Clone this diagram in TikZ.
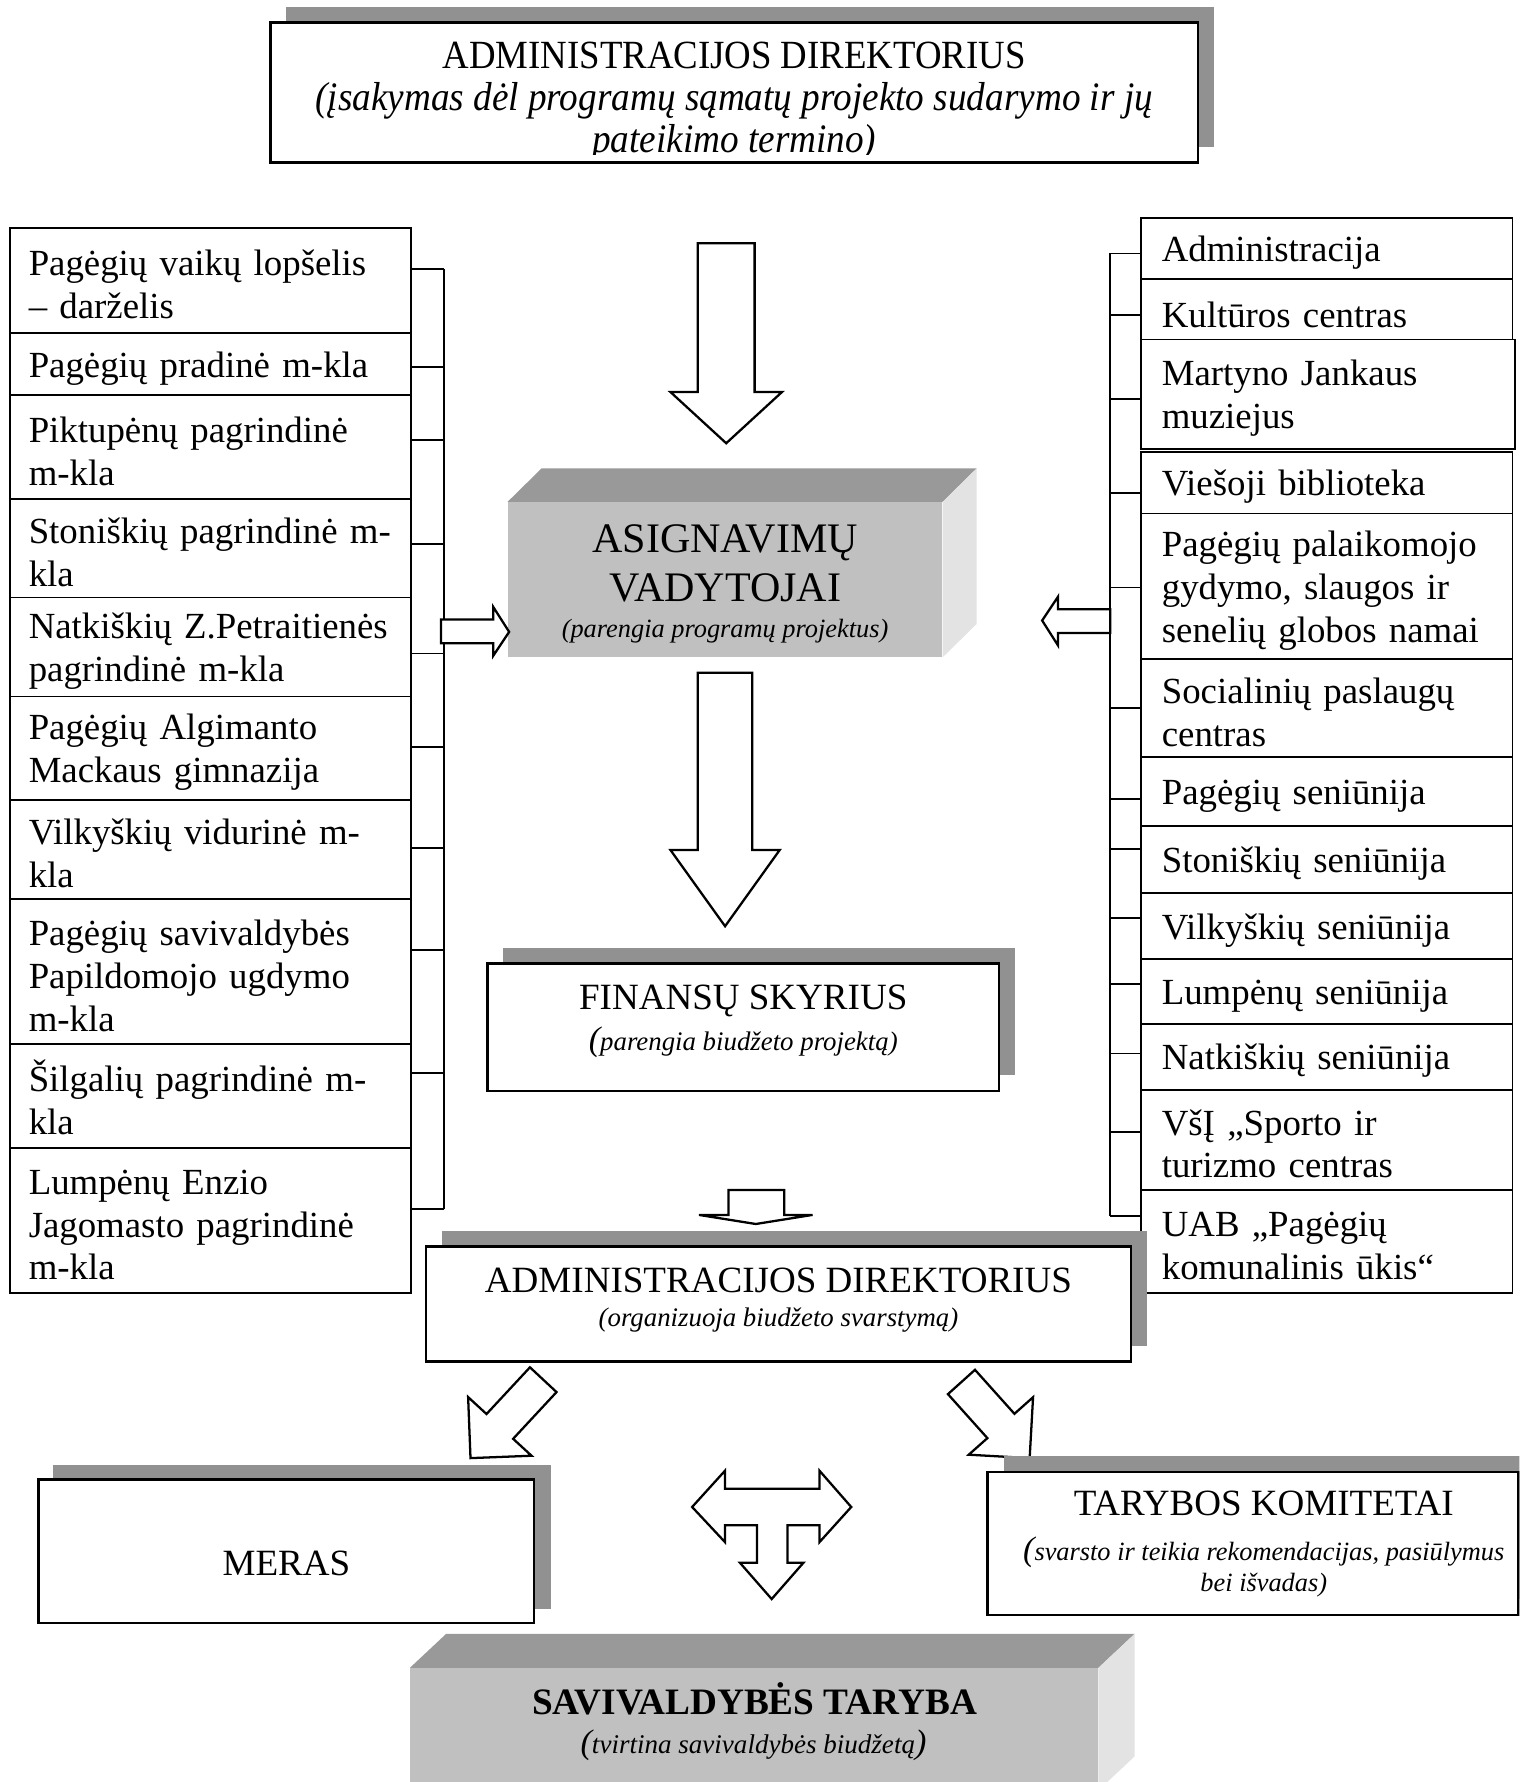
\documentclass[tikz,border=0pt]{standalone}
\usepackage{fontspec}
\setmainfont{Liberation Serif}
\newfontfamily\condfont[FakeStretch=0.92]{Liberation Serif}
\usetikzlibrary{calc}
\definecolor{shadowgray}{RGB}{145,145,145}
\definecolor{frontgray}{RGB}{192,192,192}
\definecolor{topgray}{RGB}{153,153,153}
\definecolor{sidegray}{RGB}{227,227,227}
\newcommand{\colfont}{\fontsize{16.2pt}{18.8pt}\selectfont}
\newcommand{\headfont}{\fontsize{16.3pt}{18.8pt}\selectfont}
\newcommand{\capfont}{\fontsize{11.8pt}{14pt}\selectfont\itshape}
\newcommand{\bigparen}[1]{{\fontsize{15pt}{15pt}\selectfont #1}}
\begin{document}
\begin{tikzpicture}[x=0.5pt,y=-0.5pt,
  lcol/.style={draw, line width=0.8pt, fill=white, anchor=north west, align=left,
    text width=160pt, inner xsep=8.25pt, inner ysep=0pt, font=\colfont,
    execute at begin node={\rule{0pt}{15pt}}},
  rcol/.style={lcol, text width=145pt, inner xsep=9.25pt},
  bus/.style={line width=0.8pt},
  blockarrow/.style={draw, line width=1pt, fill=white, line join=miter},
  mainbox/.style={draw, line width=1.1pt, fill=white, inner sep=0pt},
  headtext/.style={anchor=base, inner sep=0pt, font=\headfont},
  captext/.style={anchor=base, inner sep=0pt, font=\capfont}]
\useasboundingbox (0,0) rectangle (1337,1568);
\fill[white] (0,0) rectangle (1337,1568);
\clip (0,0) rectangle (1337,1568);

% ---------- top box ----------
\fill[shadowgray] (252,6) rectangle (1068,129);
\node[mainbox, minimum width=408pt, minimum height=61.5pt] (adm1) at (646,81.5) {};
\begin{scope}
  \clip (240,22) rectangle (1052,136);
  \node[headtext, font=\condfont\fontsize{17.6pt}{18pt}\selectfont] (adm1h) at (646,60) {ADMINISTRACIJOS DIREKTORIUS};
  \node[captext, font=\condfont\fontsize{17.8pt}{18pt}\selectfont\itshape] (adm1c) at (646,97)
    {(įsakymas dėl programų sąmatų projekto sudarymo ir jų};
  \node[captext, font=\condfont\fontsize{17.8pt}{18pt}\selectfont\itshape] (adm1d) at (646,134.5)
    {pateikimo termino)};
\end{scope}

% ---------- left column ----------
\node[lcol, minimum height=46pt]   (L1)  at (8,200)  {\mbox{Pagėgių vaikų lopšelis}\\– darželis};
\node[lcol, minimum height=27.5pt] (L2)  at (8,292)  {\mbox{Pagėgių pradinė m-kla}};
\node[lcol, minimum height=45.5pt] (L3)  at (8,347)  {\mbox{Piktupėnų pagrindinė}\\m-kla};
\node[lcol, minimum height=43.5pt] (L4)  at (8,438)  {\mbox{Stoniškių pagrindinė m-}\\kla};
\node[lcol, minimum height=43.5pt] (L5)  at (8,525)  {\mbox{Natkiškių Z.Petraitienės}\\\mbox{pagrindinė m-kla}};
\node[lcol, minimum height=45.5pt] (L6)  at (8,612)  {\mbox{Pagėgių Algimanto}\\\mbox{Mackaus gimnazija}};
\node[lcol, minimum height=43.5pt] (L7)  at (8,703)  {\mbox{Vilkyškių vidurinė m-}\\kla};
\node[lcol, minimum height=64pt]   (L8)  at (8,790)  {\mbox{Pagėgių savivaldybės}\\\mbox{Papildomojo ugdymo}\\m-kla};
\node[lcol, minimum height=45.5pt] (L9)  at (8,918)  {\mbox{Šilgalių pagrindinė m-}\\kla};
\node[lcol, minimum height=64pt]   (L10) at (8,1009) {\mbox{Lumpėnų Enzio}\\\mbox{Jagomasto pagrindinė}\\m-kla};

\coordinate (lb1) at (391,237);
\coordinate (lb2) at (391,323);
\coordinate (lb3) at (391,387);
\coordinate (lb4) at (391,479);
\coordinate (lb5) at (391,575);
\coordinate (lb6) at (391,657);
\coordinate (lb7) at (391,746);
\coordinate (lb8) at (391,836);
\coordinate (lb9) at (391,944);
\coordinate (lb10) at (391,1064);
\draw[bus] (lb1) -- (lb10);
\foreach \i in {1,...,10} {\draw[bus] (lb\i) -- (lb\i -| L\i.east);}

% ---------- right column ----------
\node[rcol, minimum height=27pt]   (R1)  at (1003,191)  {Administracija};
\node[rcol, minimum height=27.5pt] (R2)  at (1003,245)  {\mbox{Kultūros centras}};
\node[rcol, minimum height=48pt, text width=146pt] (R3) at (1003,298) {\mbox{Martyno Jankaus}\\muziejus};
\node[rcol, minimum height=27pt]   (R4)  at (1003,397)  {\mbox{Viešoji biblioteka}};
\node[rcol, minimum height=64pt]   (R5)  at (1003,451)  {\mbox{Pagėgių palaikomojo}\\\mbox{gydymo, slaugos ir}\\\mbox{senelių globos namai}};
\node[rcol, minimum height=43pt]   (R6)  at (1003,579)  {\mbox{Socialinių paslaugų}\\centras};
\node[rcol, minimum height=30.5pt] (R7)  at (1003,665)  {\mbox{Pagėgių seniūnija}};
\node[rcol, minimum height=29.5pt] (R8)  at (1003,726)  {\mbox{Stoniškių seniūnija}};
\node[rcol, minimum height=29pt]   (R9)  at (1003,785)  {\mbox{Vilkyškių seniūnija}};
\node[rcol, minimum height=28.5pt] (R10) at (1003,843)  {\mbox{Lumpėnų seniūnija}};
\node[rcol, minimum height=29pt]   (R11) at (1003,900)  {\mbox{Natkiškių seniūnija}};
\node[rcol, minimum height=44pt]   (R12) at (1003,958)  {\mbox{VšĮ ,,Sporto ir}\\\mbox{turizmo centras}};
\node[rcol, minimum height=45.5pt] (R13) at (1003,1046) {\mbox{UAB ,,Pagėgių}\\\mbox{komunalinis ūkis“}};

\coordinate (rb1) at (977,223);
\coordinate (rb2) at (977,277);
\coordinate (rb3) at (977,351);
\coordinate (rb4) at (977,434);
\coordinate (rb5) at (977,517);
\coordinate (rb6) at (977,623);
\coordinate (rb7) at (977,703);
\coordinate (rb8) at (977,747);
\coordinate (rb9) at (977,808);
\coordinate (rb10) at (977,866);
\coordinate (rb11) at (977,927);
\coordinate (rb12) at (977,996);
\coordinate (rb13) at (977,1070);
\draw[bus] (rb1) -- (rb13);
\foreach \i in {1,...,13} {\draw[bus] (rb\i) -- (rb\i -| R\i.west);}

% ---------- ASIGNAVIMU 3D box ----------
\node[fill=frontgray, minimum width=191pt, minimum height=68pt, inner sep=0pt] (asig) at (638,510) {};
\fill[topgray] (asig.north west) -- ++(30,-29.5) -- ($(asig.north east)+(30,-29.5)$) -- (asig.north east) -- cycle;
\fill[sidegray] (asig.north east) -- ++(30,-29.5) -- ($(asig.south east)+(30,-29.5)$) -- (asig.south east) -- cycle;
\node[headtext, font=\fontsize{18.5pt}{20pt}\selectfont] (asig1) at (638,486) {ASIGNAVIMŲ};
\node[headtext, font=\fontsize{18.5pt}{20pt}\selectfont] (asig2) at (638,529) {VADYTOJAI};
\node[captext, font=\fontsize{11.6pt}{14pt}\selectfont\itshape] (asig3) at (638,561) {(parengia programų projektus)};

% ---------- block arrows ----------
\draw[blockarrow] (614,214) -- (664,214) -- (664,345) -- (688,345) -- (639,390) -- (590,345) -- (614,345) -- cycle;
\draw[blockarrow] (614,592) -- (662,592) -- (662,748) -- (686,748) -- (638,815) -- (590,748) -- (614,748) -- cycle;
\draw[blockarrow] (388,545) -- (434,545) -- (434,534) -- (448,556) -- (434,577) -- (434,566) -- (388,566) -- cycle;
\draw[blockarrow] (977,536) -- (931,536) -- (931,525) -- (917,546) -- (931,568) -- (931,557) -- (977,557) -- cycle;
\draw[blockarrow] (641,1047) -- (690,1047) -- (690,1069) -- (715,1069) -- (665,1077) -- (615,1069) -- (641,1069) -- cycle;

% ---------- FINANSU SKYRIUS ----------
\fill[shadowgray] (443,834) rectangle (893,946);
\node[mainbox, minimum width=225pt, minimum height=56pt] (fin) at (654,904) {};
\node[headtext] (fin1) at (654,888) {FINANSŲ SKYRIUS};
\node[captext] (fin2) at (654,924) {\bigparen{(}parengia biudžeto projektą)};

% ---------- ADMINISTRACIJOS DIREKTORIUS (2) ----------
\fill[shadowgray] (389,1083) rectangle (1009,1184);
\node[mainbox, minimum width=310pt, minimum height=50.5pt] (adm2) at (685,1147.5) {};
\node[headtext] (adm2h) at (685,1137) {ADMINISTRACIJOS DIREKTORIUS};
\node[captext] (adm2c) at (685,1167) {(organizuoja biudžeto svarstymą)};

% ---------- diagonal arrows ----------
\draw[blockarrow] (466.3,1203.1) -- (428.1,1244.2) -- (411.9,1229.3) -- (414,1283) -- (467.7,1280.9) -- (451.5,1266.0) -- (489.7,1224.9) -- cycle;
\draw[blockarrow] (857.9,1205.3) -- (892.6,1244.0) -- (909.0,1229.4) -- (906,1283) -- (852.4,1280.0) -- (868.8,1265.4) -- (834.1,1226.7) -- cycle;

% ---------- MERAS ----------
\fill[shadowgray] (47,1289) rectangle (485,1416);
\node[mainbox, minimum width=218pt, minimum height=63pt] (meras) at (252,1365) {};
\node[headtext] (merast) at (252,1386) {MERAS};

% ---------- TARYBOS KOMITETAI ----------
\fill[shadowgray] (883,1281) rectangle (1350,1407);
\node[mainbox, minimum width=233.5pt, minimum height=63pt] (kom) at (1102.5,1358) {};
\node[headtext] (kom1) at (1112,1333.5) {TARYBOS KOMITETAI};
\node[captext, font=\fontsize{11.6pt}{14pt}\selectfont\itshape] (kom2) at (1112,1373) {\bigparen{(}svarsto ir teikia rekomendacijas, pasiūlymus};
\node[captext, font=\fontsize{11.6pt}{14pt}\selectfont\itshape] (kom3) at (1112,1400) {bei išvadas)};

% ---------- T arrow ----------
\draw[blockarrow] (609,1326) -- (638,1294) -- (638,1310) -- (721,1310) -- (721,1294) -- (749,1326) -- (721,1357) -- (721,1342)
  -- (693,1342) -- (693,1375) -- (707,1375) -- (679,1407) -- (651,1375) -- (666,1375) -- (666,1342) -- (638,1342) -- (638,1357) -- cycle;

% ---------- SAVIVALDYBES TARYBA ----------
\node[fill=frontgray, minimum width=302.5pt, minimum height=53.5pt, inner sep=0pt] (tar) at (663.5,1521.5) {};
\fill[topgray] (tar.north west) -- ++(32,-30) -- ($(tar.north east)+(32,-30)$) -- (tar.north east) -- cycle;
\fill[sidegray] (tar.north east) -- ++(32,-30) -- ($(tar.south east)+(32,-30)$) -- (tar.south east) -- cycle;
\node[headtext, font=\fontsize{16.4pt}{18pt}\selectfont\bfseries] (tar1) at (664,1508.5) {SAVIVALDYBĖS TARYBA};
\node[captext, font=\fontsize{11.9pt}{14pt}\selectfont\itshape] (tar2) at (663,1543) {\bigparen{(}tvirtina savivaldybės biudžetą\bigparen{)}};
\end{tikzpicture}
\end{document}
